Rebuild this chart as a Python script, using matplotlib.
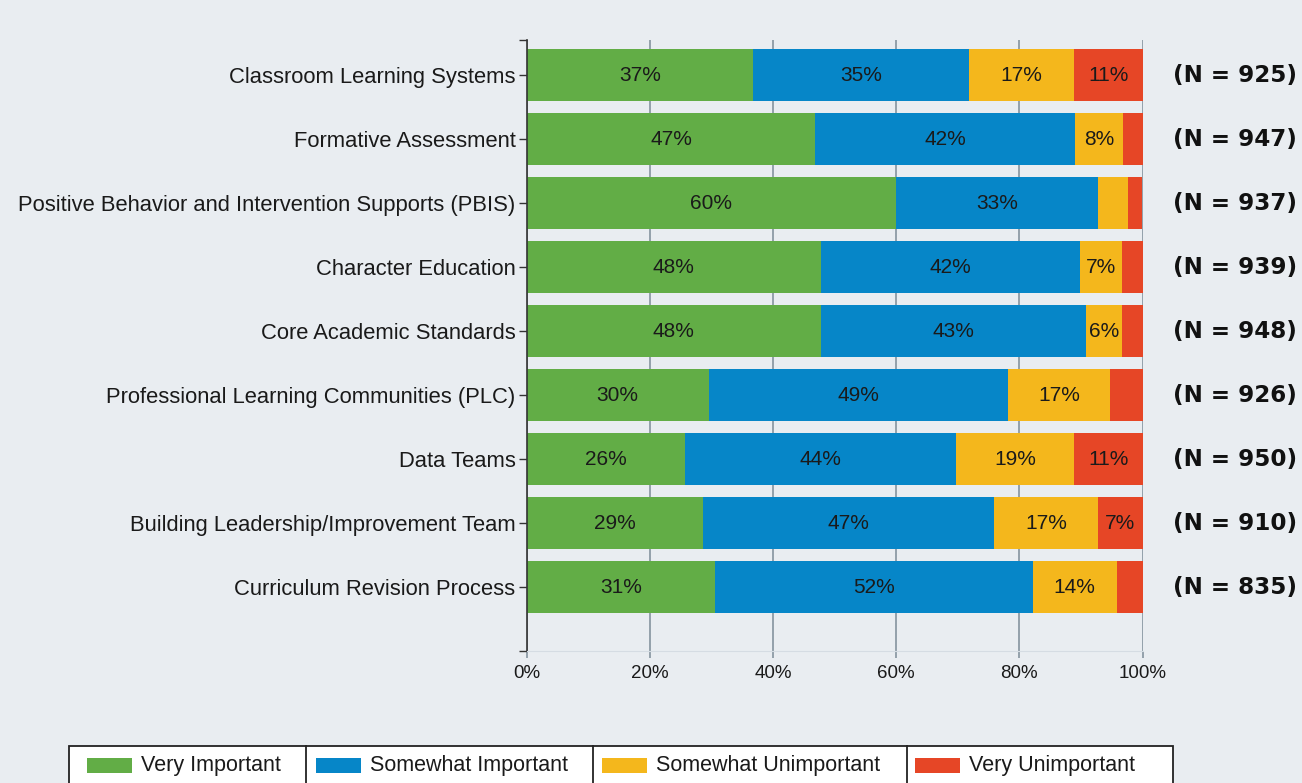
import matplotlib
matplotlib.use("Agg")
import matplotlib.pyplot as plt
from matplotlib.patches import Rectangle
from matplotlib.lines import Line2D
import numpy as np

categories = ["Classroom Learning Systems", "Formative Assessment",
              "Positive Behavior and Intervention Supports (PBIS)", "Character Education",
              "Core Academic Standards", "Professional Learning Communities (PLC)",
              "Data Teams", "Building Leadership/Improvement Team", "Curriculum Revision Process"]
very_important = [36.8, 46.9, 60.0, 47.8, 47.8, 29.6, 25.7, 28.6, 30.6]
somewhat_important = [35.0, 42.1, 32.8, 42.1, 43.1, 48.6, 44.1, 47.3, 51.6]
somewhat_unimportant = [17.1, 7.8, 4.9, 6.8, 5.8, 16.6, 19.1, 16.9, 13.6]
very_unimportant = [11.1, 3.2, 2.3, 3.3, 3.3, 5.2, 11.1, 7.2, 4.2]
n_counts = [925, 947, 937, 939, 948, 926, 950, 910, 835]
series_names = ["Very Important", "Somewhat Important", "Somewhat Unimportant", "Very Unimportant"]
colors = ["#62AD46", "#0686C8", "#F4B71C", "#E64626"]
xticks = [0, 20, 40, 60, 80, 100]

W, H = 1302, 783
BG = "#E9EDF1"
GRID = "#8C9BA5"
plt.rcParams['font.family'] = ['Liberation Sans', 'DejaVu Sans']

fig = plt.figure(figsize=(W / 100, H / 100), dpi=100, facecolor=BG)
ax = fig.add_axes([526.5 / W, 1 - 651 / H, 616 / W, 611 / H])
ax.set_facecolor(BG)
ax.set_axisbelow(True)

y = np.arange(len(categories))
left = np.zeros(len(categories))
for vals, col in zip([very_important, somewhat_important, somewhat_unimportant, very_unimportant], colors):
    vals = np.array(vals)
    ax.barh(y, vals, left=left, height=0.81, color=col, zorder=2)
    for yi, l, v in zip(y, left, vals):
        if v >= 5.5:
            ax.text(l + v / 2, yi, f"{round(v)}%", ha='center', va='center',
                    fontsize=15, color='#1a1a1a', zorder=3)
    left += vals

for yi, n in zip(y, n_counts):
    ax.text(105, yi, f"(N = {n})", ha='left', va='center', fontsize=16.6,
            fontweight='bold', family='DejaVu Sans', color='#111111', clip_on=False)

ax.set_xlim(0, 100)
ax.set_ylim(9.0, -0.547)
ax.set_xticks(xticks)
ax.set_xticklabels([f"{v}%" for v in xticks])
ax.set_yticks(y)
ax.set_yticklabels(categories)
ax.set_yticks([9.0, -0.547], minor=True)
ax.grid(axis='x', color=GRID, lw=1.3)
ax.tick_params(axis='y', which='both', length=6, width=1, color='#333333',
               labelsize=15.8, pad=2, labelcolor='#1a1a1a')
ax.tick_params(axis='x', length=5, width=1.3, color=GRID, labelsize=13.5,
               pad=5, labelcolor='#1a1a1a')
for s in ['top', 'right']:
    ax.spines[s].set_visible(False)
ax.spines['left'].set_color('#333333')
ax.spines['left'].set_linewidth(1.2)
ax.spines['bottom'].set_color('#D5DCE3')


# manual legend in figure pixel coords (top-left origin)
def fx(px):
    return px / W


def fy(py):
    return 1 - py / H


fig.add_artist(Rectangle((fx(69), fy(795)), fx(1173) - fx(69), fy(746) - fy(795),
                         transform=fig.transFigure, facecolor='white',
                         edgecolor='#222222', lw=1.3))
for xd in [306, 593, 907]:
    fig.add_artist(Line2D([fx(xd), fx(xd)], [fy(746), fy(790)],
                          transform=fig.transFigure, color='#222222', lw=1.3))
patch_x = [87, 316, 602, 915]
for px, name, col in zip(patch_x, series_names, colors):
    fig.add_artist(Rectangle((fx(px), fy(773)), fx(45), fy(758) - fy(773),
                             transform=fig.transFigure, facecolor=col, edgecolor='none'))
    fig.text(fx(px + 54), fy(766), name, ha='left', va='center', fontsize=15.5,
             color='#1a1a1a')

fig.savefig("out.png", dpi=100, facecolor=BG)
